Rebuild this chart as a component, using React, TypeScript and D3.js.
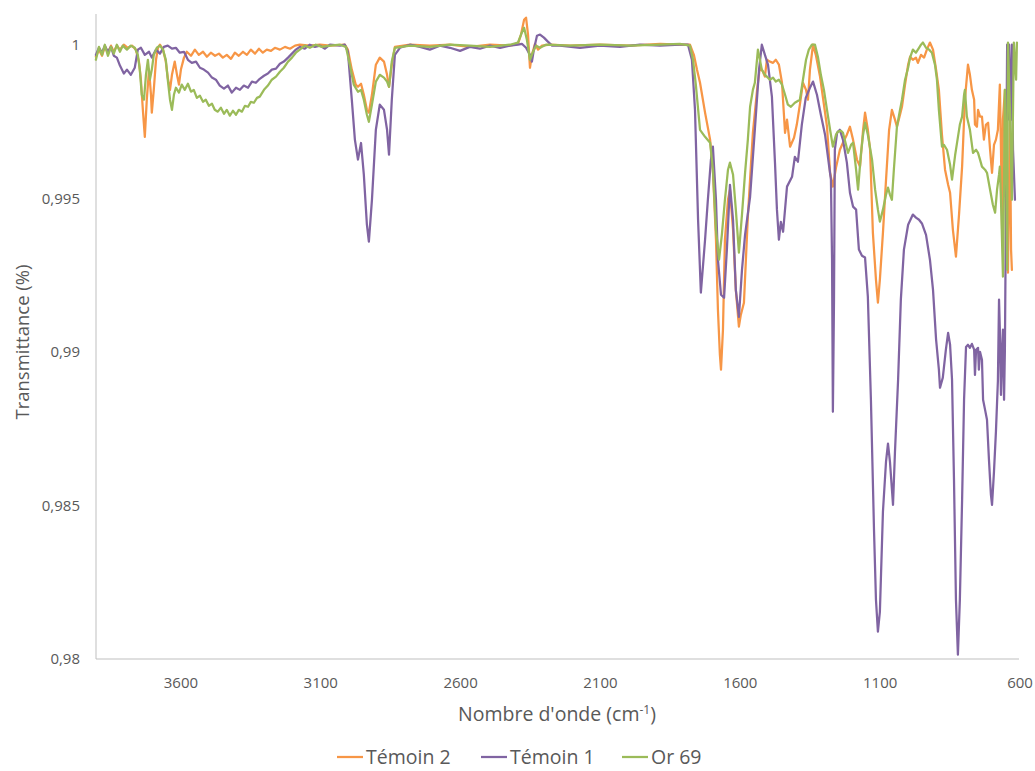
import React from "react";
import * as d3 from "d3";

// Series: [wavenumber (cm-1), transmittance]
const temoin2: [number, number][] = [
  [3904,0.99961],[3893,0.99984],[3882,0.99964],[3872,0.99993],[3861,0.99974],[3850,0.99997],[3840,0.99977],[3829,0.99997],[3818,0.99984],[3804,1.0],[3790,0.9999],[3775,0.99997],[3761,0.99984],[3750,0.99945],[3743,0.99886],[3736,0.99788],[3729,0.997],[3722,0.99821],[3714,0.99919],[3707,0.99837],[3704,0.99779],[3697,0.99853],[3689,0.99951],[3682,0.9999],[3675,1.0],[3664,0.99984],[3654,0.99945],[3647,0.99893],[3639,0.99853],[3632,0.99902],[3622,0.99945],[3614,0.99902],[3607,0.9987],[3600,0.99919],[3589,0.99958],[3579,0.99977],[3564,0.99964],[3550,0.99984],[3536,0.99967],[3521,0.99977],[3507,0.99961],[3493,0.99974],[3478,0.99964],[3464,0.99971],[3450,0.99958],[3436,0.99967],[3421,0.99954],[3407,0.99974],[3393,0.99964],[3378,0.99977],[3364,0.99967],[3350,0.99984],[3335,0.99971],[3321,0.99987],[3307,0.99974],[3293,0.99984],[3278,0.9998],[3264,0.9999],[3246,0.99984],[3228,0.99993],[3210,0.99987],[3192,0.99997],[3175,1.0],[3139,0.99997],[3103,1.0],[3067,0.99997],[3014,1.0],
  [3003,0.99984],[2989,0.99919],[2975,0.9987],[2967,0.99863],[2956,0.99873],[2946,0.99837],[2935,0.99788],[2928,0.99779],[2917,0.99837],[2903,0.99935],[2889,0.99958],[2874,0.99945],[2863,0.99902],[2856,0.99863],[2846,0.99935],[2835,0.99993],[2781,1.0],
  [2710,0.99997],[2638,1.0],[2567,0.99993],[2495,1.0],[2424,0.99997],[2395,1.00003],[2384,1.00033],[2373,1.00081],[2366,1.00088],[2359,1.00033],[2352,0.99925],[2345,0.99967],[2334,1.00003],[2323,0.99984],[2309,0.99997],[2281,1.0],[2209,0.99997],[2102,1.0],[1995,0.99997],[1887,1.00003],[1816,1.0],[1780,1.0],
  [1766,0.99967],[1755,0.99919],[1744,0.99876],[1726,0.99779],[1708,0.99691],[1698,0.99593],[1687,0.99365],[1680,0.99137],[1673,0.98991],[1669,0.98942],[1662,0.99072],[1655,0.99365],[1644,0.99495],[1637,0.99528],[1626,0.99398],[1616,0.99202],[1605,0.99082],[1598,0.99121],[1587,0.9916],[1573,0.9944],[1562,0.99609],[1555,0.99713],[1540,0.99853],[1530,0.99928],[1519,0.99912],[1512,0.99896],[1505,0.99951],[1494,0.99945],[1483,0.99941],[1473,0.99951],[1462,0.99935],[1451,0.99876],[1444,0.99772],[1440,0.99713],[1433,0.99756],[1422,0.99668],[1408,0.99697],[1398,0.9974],[1387,0.99805],[1376,0.99876],[1365,0.99853],[1358,0.99821],[1351,0.99919],[1340,1.0],[1330,0.99967],[1315,0.99896],[1301,0.99805],[1290,0.99733],[1279,0.99583],[1269,0.99538],[1258,0.99599],[1244,0.99658],[1233,0.99681],[1219,0.99707],[1208,0.99733],[1197,0.99691],[1183,0.99626],[1172,0.99603],[1161,0.99723],[1154,0.99779],[1144,0.99723],[1136,0.99658],[1126,0.99388],[1115,0.99235],[1108,0.9916],[1101,0.99235],[1090,0.99388],[1079,0.9956],[1068,0.99723],[1058,0.99788],[1047,0.99756],[1040,0.99733],[1029,0.99772],[1022,0.99798],[1011,0.9987],[1000,0.99935],[993,0.99961],[983,0.99951],[972,0.99958],[965,0.99941],[954,0.99967],[943,0.99958],[933,0.99984],[922,1.00007],[911,0.99984],[900,0.99919],[890,0.99853],[879,0.99707],[868,0.99593],[857,0.99544],[850,0.99518],[840,0.99398],[829,0.9931],[818,0.99447],[807,0.99603],[797,0.99821],[786,0.99935],[779,0.99902],[772,0.99853],[764,0.99821],[761,0.9974],[754,0.99733],[750,0.99788],[743,0.99766],[736,0.99766],[729,0.99691],[722,0.99739],[714,0.99746],[707,0.99658],[700,0.99583],[693,0.99674],[686,0.99691],[679,0.99723],[672,0.9987],[668,0.99658],[664,0.99398],[661,0.99756],[654,0.99853],[650,0.9956],[643,0.99258],[639,0.9956],[636,0.99756],[632,0.99333],[629,0.99267]
];

const temoin1: [number, number][] = [
  [3904,0.99967],[3893,0.9999],[3882,0.99974],[3872,0.99997],[3861,0.99977],[3850,0.99993],[3840,0.99964],[3829,0.99958],[3818,0.99932],[3804,0.99906],[3793,0.99919],[3779,0.99902],[3765,0.99925],[3754,0.99984],[3743,0.9999],[3729,0.99967],[3714,0.99977],[3704,0.99958],[3689,0.99984],[3675,0.99971],[3661,0.99993],[3647,0.99997],[3632,0.99987],[3618,0.9999],[3604,0.99974],[3589,0.99977],[3575,0.99951],[3561,0.99941],[3546,0.99945],[3532,0.99925],[3518,0.99919],[3503,0.99909],[3489,0.99893],[3475,0.99886],[3461,0.99867],[3446,0.99857],[3432,0.99867],[3418,0.99844],[3403,0.9986],[3389,0.99853],[3375,0.99867],[3360,0.9986],[3346,0.9988],[3332,0.99876],[3318,0.99889],[3303,0.99899],[3289,0.99906],[3275,0.99919],[3260,0.99922],[3246,0.99938],[3232,0.99945],[3217,0.99958],[3203,0.99971],[3189,0.99984],[3175,0.99993],[3157,0.99987],[3139,1.0],[3121,0.99993],[3103,0.99997],[3085,0.99987],[3067,1.0],[3031,0.99997],[3014,1.0],
  [3003,0.99977],[2989,0.99821],[2978,0.99691],[2967,0.99626],[2956,0.9968],[2946,0.99577],[2935,0.99414],[2928,0.99359],[2917,0.99495],[2903,0.99723],[2889,0.99805],[2874,0.99788],[2863,0.99723],[2856,0.99642],[2846,0.99821],[2835,0.99967],[2817,0.9999],[2781,1.0],
  [2745,0.99993],[2710,0.99984],[2674,0.99997],[2638,0.9999],[2602,0.9998],[2567,0.99993],[2531,0.99987],[2495,0.99997],[2459,0.9999],[2424,0.99997],[2395,1.0],[2381,1.00003],[2366,0.9999],[2352,0.99967],[2345,0.99945],[2338,0.99984],[2327,1.00029],[2316,1.00033],[2302,1.00023],[2288,1.0001],[2273,0.99997],[2245,0.99997],[2173,0.9999],[2102,0.99997],[2030,0.99993],[1959,1.0],[1887,0.99997],[1816,1.0],[1787,1.0],
  [1773,0.99951],[1762,0.99788],[1751,0.9943],[1741,0.99193],[1726,0.99365],[1716,0.99495],[1705,0.99626],[1698,0.99668],[1687,0.99495],[1680,0.993],[1669,0.99186],[1658,0.99176],[1648,0.99333],[1637,0.99544],[1626,0.9943],[1616,0.99202],[1605,0.99114],[1594,0.99267],[1583,0.99381],[1565,0.99505],[1548,0.99723],[1533,0.99919],[1523,1.0],[1512,0.99967],[1501,0.99935],[1487,0.99831],[1476,0.99616],[1469,0.99463],[1462,0.99365],[1455,0.99423],[1447,0.99391],[1433,0.99538],[1415,0.9957],[1405,0.99635],[1394,0.99619],[1380,0.9974],[1366,0.99827],[1351,0.9986],[1340,0.9988],[1326,0.99837],[1312,0.99772],[1297,0.99707],[1283,0.99609],[1276,0.99561],[1272,0.993],[1269,0.98805],[1265,0.9917],[1262,0.99658],[1254,0.99713],[1244,0.99723],[1233,0.99691],[1219,0.99616],[1208,0.99518],[1197,0.99473],[1186,0.99463],[1176,0.99333],[1165,0.99313],[1154,0.99307],[1144,0.9918],[1133,0.98844],[1122,0.98421],[1115,0.98193],[1108,0.98089],[1101,0.98153],[1090,0.9848],[1079,0.98643],[1072,0.98701],[1065,0.98643],[1054,0.98502],[1047,0.98675],[1036,0.98906],[1026,0.9917],[1015,0.99333],[1000,0.99414],[983,0.99447],[972,0.99437],[961,0.9943],[950,0.99417],[936,0.99381],[922,0.993],[911,0.99202],[900,0.9904],[890,0.98942],[886,0.98883],[876,0.98916],[865,0.99007],[857,0.99062],[850,0.99023],[843,0.98909],[836,0.98584],[829,0.98193],[822,0.98014],[815,0.98193],[807,0.98518],[800,0.98844],[793,0.99016],[786,0.99023],[779,0.99013],[772,0.99026],[764,0.99007],[761,0.98925],[757,0.99007],[750,0.99013],[747,0.98942],[743,0.99],[736,0.98974],[732,0.98844],[725,0.98812],[718,0.98779],[711,0.98649],[704,0.98535],[700,0.98502],[693,0.9861],[686,0.98741],[679,0.98906],[675,0.9917],[672,0.99072],[668,0.9886],[664,0.99007],[661,0.99072],[657,0.98844],[654,0.99007],[650,0.99495],[646,1.0],[643,0.99756],[639,1.0],[632,0.99756],[629,1.0],[625,0.99658],[618,0.99495]
];

const or69: [number, number][] = [
  [3904,0.99951],[3893,0.99993],[3882,0.99967],[3872,1.0],[3861,0.99964],[3850,0.99993],[3840,0.99971],[3829,1.0],[3818,0.99977],[3808,0.99997],[3793,0.99984],[3779,0.99997],[3765,0.9999],[3754,0.99967],[3747,0.99919],[3740,0.99837],[3732,0.99821],[3725,0.99902],[3718,0.99951],[3711,0.99886],[3704,0.99919],[3697,0.99967],[3686,0.9999],[3675,0.99997],[3664,0.99984],[3654,0.99951],[3647,0.99886],[3639,0.99821],[3632,0.99788],[3625,0.99837],[3618,0.9986],[3607,0.99844],[3597,0.9987],[3586,0.99853],[3575,0.99873],[3564,0.99847],[3554,0.99853],[3543,0.99827],[3532,0.99834],[3521,0.99814],[3511,0.99821],[3500,0.99801],[3489,0.99808],[3479,0.99788],[3468,0.99782],[3457,0.99795],[3446,0.99775],[3436,0.99788],[3425,0.99769],[3414,0.99785],[3403,0.99772],[3393,0.99788],[3382,0.99782],[3371,0.99801],[3360,0.99798],[3350,0.99814],[3339,0.99811],[3328,0.99827],[3318,0.99831],[3303,0.99853],[3289,0.99867],[3275,0.99886],[3260,0.99896],[3246,0.99912],[3232,0.99925],[3217,0.99945],[3203,0.99958],[3189,0.99974],[3175,0.99984],[3157,0.99997],[3139,0.9999],[3118,1.0],[3096,0.99993],[3067,0.99997],[3031,1.0],
  [3010,0.99993],[2996,0.99935],[2982,0.9987],[2967,0.99847],[2956,0.99853],[2946,0.99821],[2935,0.99772],[2928,0.99749],[2917,0.99805],[2903,0.9988],[2889,0.99902],[2874,0.99893],[2863,0.9988],[2856,0.99863],[2846,0.99945],[2835,0.9999],[2781,0.99997],
  [2710,0.99993],[2638,1.0],[2567,0.99997],[2495,0.99993],[2424,1.0],[2395,1.00007],[2384,1.00033],[2373,1.00055],[2363,1.00016],[2352,0.99951],[2341,0.99977],[2330,0.99997],[2316,0.9999],[2295,1.0],[2209,0.99997],[2102,1.0],[1995,0.99997],[1887,1.0],[1816,1.00003],[1780,0.99997],
  [1769,0.99951],[1759,0.9987],[1744,0.99723],[1726,0.997],[1708,0.99681],[1698,0.99593],[1687,0.99398],[1676,0.993],[1666,0.99381],[1655,0.99495],[1644,0.99593],[1637,0.99616],[1626,0.99577],[1616,0.99463],[1605,0.99323],[1594,0.99447],[1583,0.99583],[1573,0.99691],[1565,0.99798],[1555,0.99853],[1548,0.99876],[1537,0.99984],[1523,0.99919],[1512,0.99902],[1505,0.99896],[1494,0.99886],[1483,0.99893],[1473,0.9988],[1462,0.99886],[1451,0.9987],[1440,0.99837],[1430,0.99805],[1419,0.99798],[1405,0.99811],[1387,0.99821],[1376,0.99886],[1365,0.99951],[1355,0.99984],[1344,1.0],[1333,1.0],[1322,0.99958],[1312,0.99902],[1301,0.99853],[1290,0.99788],[1279,0.99723],[1269,0.99668],[1258,0.99707],[1251,0.99717],[1240,0.9972],[1233,0.99713],[1222,0.99674],[1215,0.99648],[1204,0.99674],[1197,0.99681],[1186,0.99593],[1179,0.99528],[1169,0.99642],[1161,0.99707],[1154,0.99746],[1144,0.99707],[1129,0.99626],[1118,0.99528],[1108,0.99463],[1101,0.99424],[1090,0.99463],[1079,0.99512],[1072,0.99535],[1065,0.99512],[1058,0.99495],[1051,0.99593],[1040,0.99733],[1029,0.99788],[1022,0.99821],[1011,0.99886],[1000,0.99925],[993,0.99958],[983,0.99984],[972,0.99974],[961,0.9999],[954,1.0],[947,1.00007],[936,0.9999],[925,0.99984],[915,0.99974],[904,0.99935],[897,0.99886],[890,0.99788],[879,0.99668],[872,0.99674],[861,0.99658],[850,0.99609],[843,0.99561],[832,0.9964],[825,0.99681],[815,0.9974],[807,0.99766],[800,0.99837],[797,0.99853],[790,0.99766],[779,0.99723],[768,0.99648],[757,0.99658],[750,0.99648],[743,0.99626],[736,0.99603],[725,0.99593],[718,0.99583],[707,0.99528],[697,0.99479],[689,0.99453],[682,0.99528],[675,0.99577],[672,0.99603],[668,0.99495],[661,0.99245],[657,0.9956],[654,0.99853],[650,0.99626],[646,0.99267],[643,1.00007],[636,0.99788],[629,0.99495],[622,1.00007],[614,0.99886],[611,1.00007]
];

const xTicks = [3600, 3100, 2600, 2100, 1600, 1100, 600];
const yTicks = [0.98, 0.985, 0.99, 0.995, 1];
const yTickLabels = ["0,98", "0,985", "0,99", "0,995", "1"];

const seriesNames = ["Témoin 2", "Témoin 1", "Or 69"];
const seriesColors = ["#F79646", "#8064A2", "#9BBB59"];
const seriesData = [temoin2, temoin1, or69];

const W = 1035;
const H = 771;
const left = 97;
const right = 1019;
const top = 14;
const bottom = 659;

export default function App() {
  const x = d3.scaleLinear().domain([3900, 600]).range([left, right + 1]);
  const y = d3.scaleLinear().domain([0.98, 1.001]).range([bottom, top]);
  const line = d3
    .line<[number, number]>()
    .x((d) => x(d[0]))
    .y((d) => y(d[1]));

  const textColor = "#595959";
  const font = "'Open Sans', sans-serif";
  const legendX = [337, 481, 622];
  const legendY = 757;

  return (
    <svg
      width={W}
      height={H}
      style={{ position: "absolute", left: 0, top: 0, background: "#fff" }}
      fontFamily={font}
    >
      <rect x={0} y={0} width={W} height={H} fill="#fff" />
      <line x1={left - 1} x2={left - 1} y1={top} y2={bottom} stroke="#bfbfbf" strokeWidth={1} />
      <line x1={left - 1} x2={right} y1={bottom} y2={bottom} stroke="#bfbfbf" strokeWidth={1} />
      {yTicks.map((t, i) => (
        <text key={t} x={80} y={y(t)} dy="0.35em" textAnchor="end" fontSize={15} fill={textColor}>
          {yTickLabels[i]}
        </text>
      ))}
      {xTicks.map((t) => (
        <text key={t} x={x(t)} y={688} textAnchor="middle" fontSize={15} fill={textColor}>
          {t}
        </text>
      ))}
      <text
        transform={`translate(29, 342) rotate(-90)`}
        textAnchor="middle"
        fontSize={18.5}
        fill={textColor}
      >
        Transmittance (%)
      </text>
      <text x={557} y={721} textAnchor="middle" fontSize={19.5} fill={textColor}>
        Nombre d'onde (cm
        <tspan dy={-7} fontSize={12}>-1</tspan>
        <tspan dy={7}>)</tspan>
      </text>
      {seriesData.map((d, i) => (
        <path
          key={seriesNames[i]}
          d={line(d) || ""}
          fill="none"
          stroke={seriesColors[i]}
          strokeWidth={2.25}
          strokeLinejoin="round"
          strokeLinecap="round"
        />
      ))}
      {seriesNames.map((n, i) => (
        <g key={n}>
          <line
            x1={legendX[i]}
            x2={legendX[i] + 26}
            y1={legendY}
            y2={legendY}
            stroke={seriesColors[i]}
            strokeWidth={2.25}
          />
          <text x={legendX[i] + 29} y={legendY} dy="0.35em" fontSize={19.5} fill={textColor}>
            {n}
          </text>
        </g>
      ))}
    </svg>
  );
}
